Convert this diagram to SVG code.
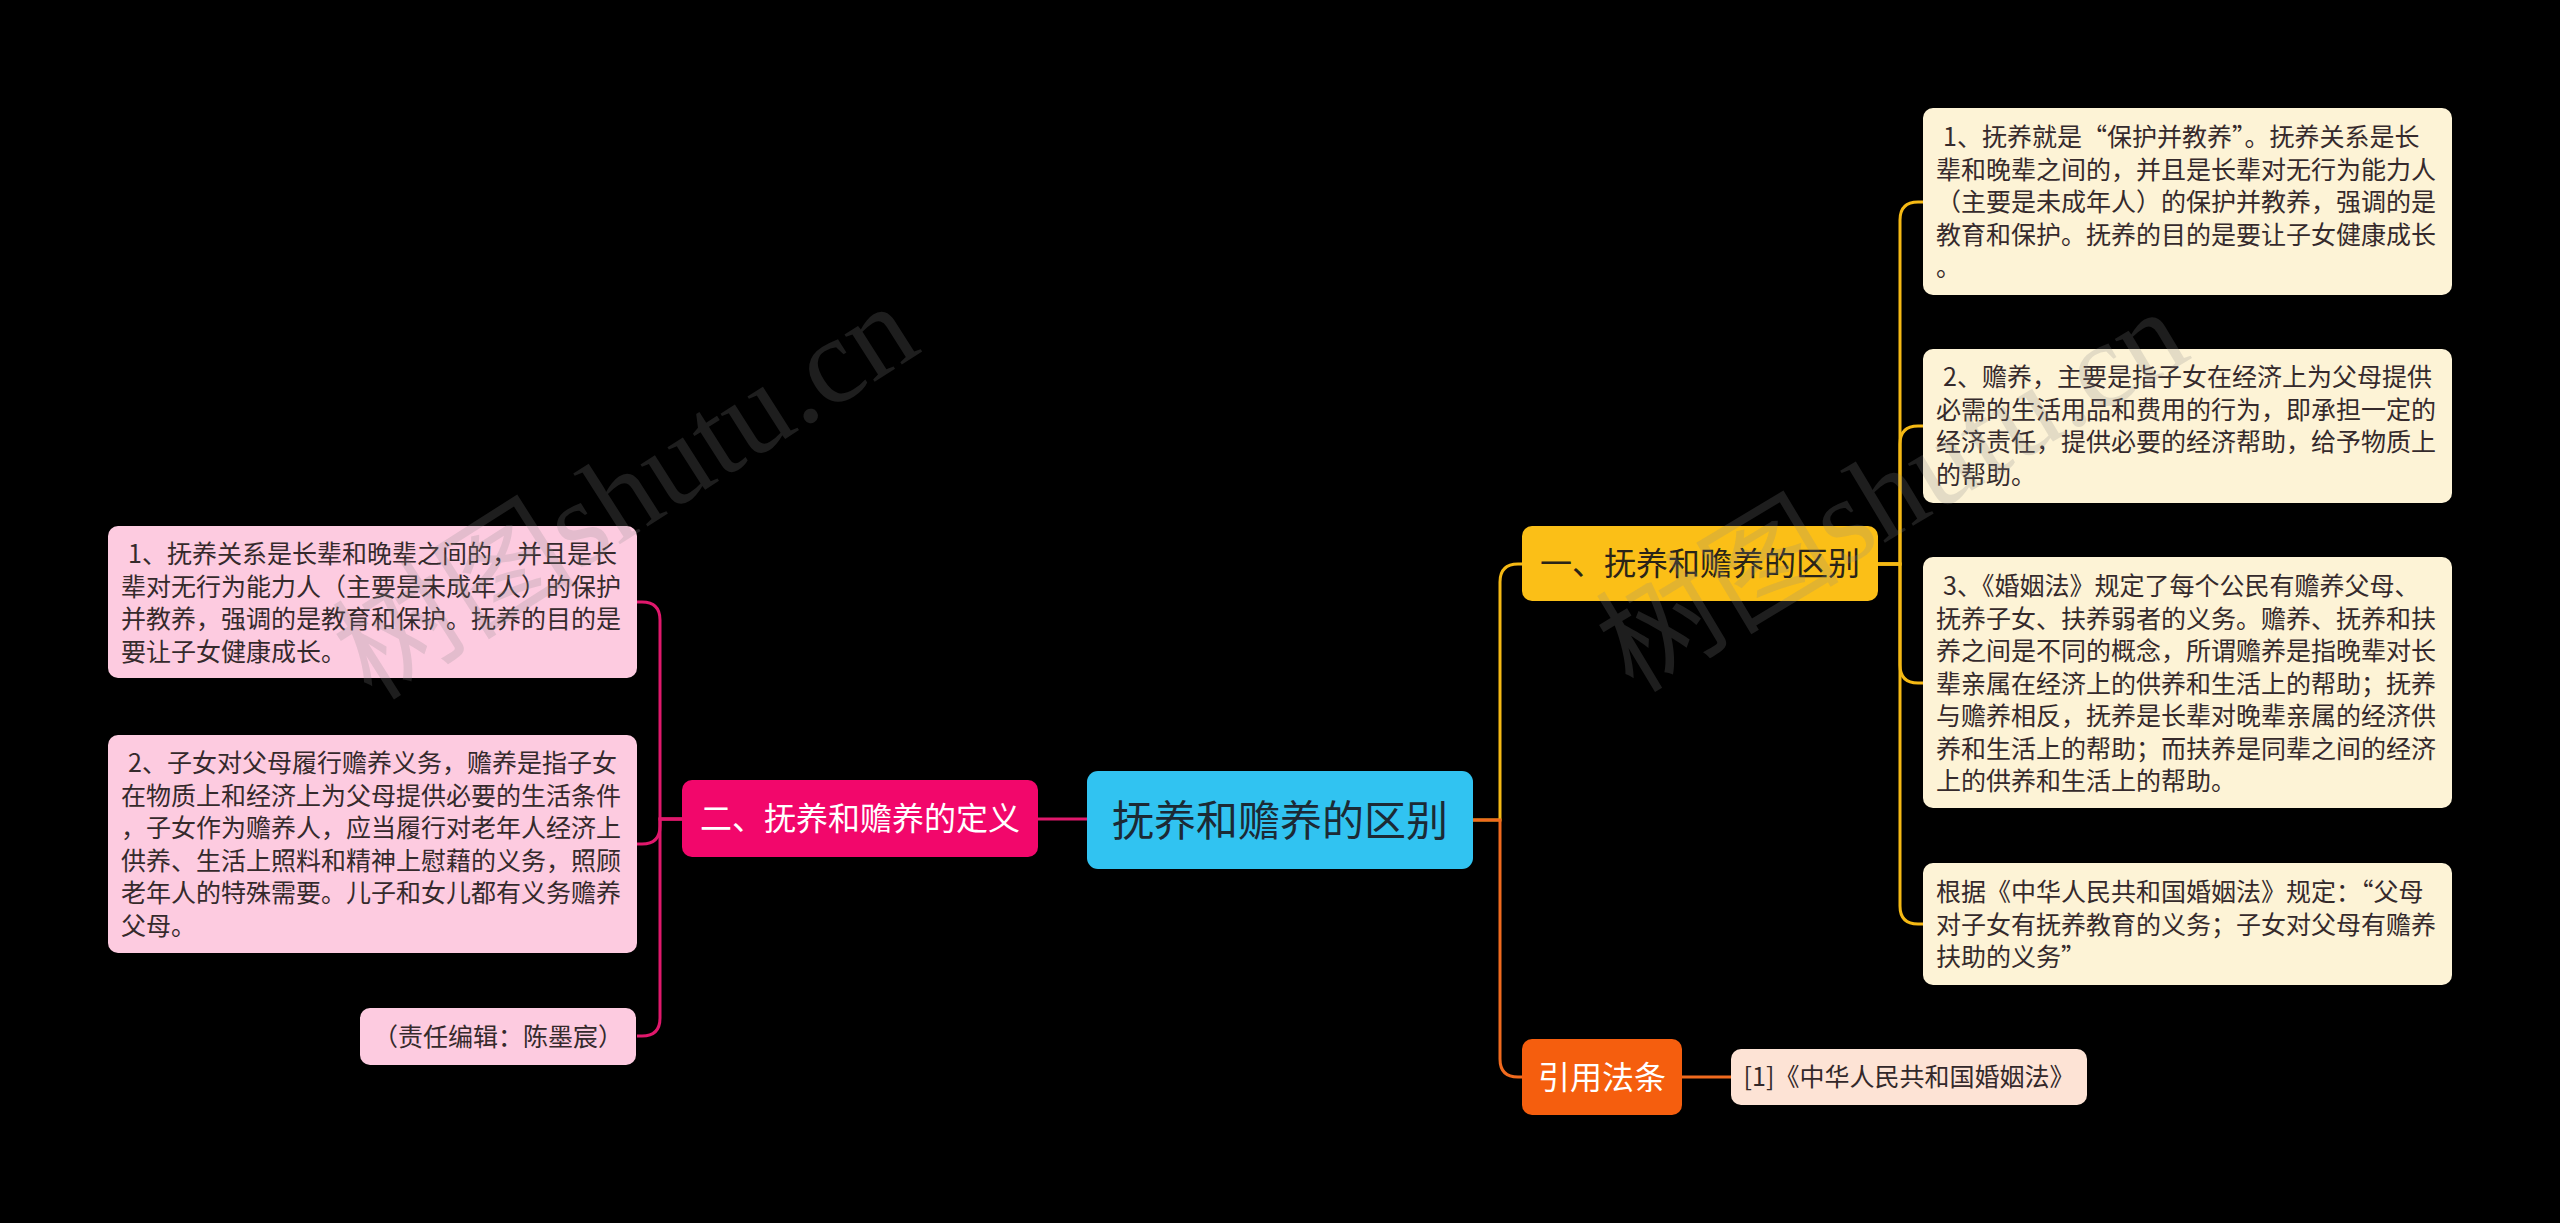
<svg xmlns="http://www.w3.org/2000/svg" width="2560" height="1223" viewBox="0 0 2560 1223">
<style>
text{font-family:"Noto Sans CJK SC","Noto Sans",sans-serif;}
.leaf{font-size:25px;fill:#352a2c;}
.cream{fill:#fdf3d6;}
.pink{fill:#fdcbe0;}
.lm{stroke:#e0186c;stroke-width:3;fill:none;}
.ly{stroke:#f5b914;stroke-width:3;fill:none;}
.lo{stroke:#f06a1e;stroke-width:3;fill:none;}
.fw{font-feature-settings:"fwid";}
.wm{font-family:"Liberation Serif","Noto Sans CJK SC",serif;font-size:122px;fill:#8a8a8a;fill-opacity:0.22;}
</style>
<rect x="0" y="0" width="2560" height="1223" fill="#000"/>

<g id="connectors">
<path class="lm" d="M1038,819 L1087,819"/>
<path class="lm" d="M682,819 L660,819 L660,620 Q660,602 642,602 L637,602"/>
<path class="lm" d="M682,819 L660,819 L660,826 Q660,844 642,844 L637,844"/>
<path class="lm" d="M682,819 L660,819 L660,1018 Q660,1036 642,1036 L637,1036"/>
<path class="ly" d="M1473,820 L1500,820 L1500,582 Q1500,564 1518,564 L1522,564"/>
<path class="lo" d="M1473,820 L1500,820 L1500,1059 Q1500,1077 1518,1077 L1522,1077"/>
<path class="ly" d="M1878,564 L1900,564 L1900,220 Q1900,202 1918,202 L1923,202"/>
<path class="ly" d="M1878,564 L1900,564 L1900,444 Q1900,426 1918,426 L1923,426"/>
<path class="ly" d="M1878,564 L1900,564 L1900,665 Q1900,683 1918,683 L1923,683"/>
<path class="ly" d="M1878,564 L1900,564 L1900,906 Q1900,924 1918,924 L1923,924"/>
<path class="lo" d="M1682,1077 L1731,1077"/>
</g>

<g id="root">
<rect x="1087" y="771" width="386" height="98" rx="11" fill="#31c3f1"/>
<text x="1280" y="836" font-size="42" text-anchor="middle" fill="#1c2a35">抚养和赡养的区别</text>
</g>

<g id="node-left">
<rect x="682" y="780" width="356" height="77" rx="10" fill="#f2076b"/>
<text x="860" y="830" font-size="32" text-anchor="middle" fill="#fff">二、抚养和赡养的定义</text>
</g>

<g id="node-yellow">
<rect x="1522" y="526" width="356" height="75" rx="10" fill="#fbbf17"/>
<text x="1700" y="575" font-size="32" text-anchor="middle" fill="#2a2418">一、抚养和赡养的区别</text>
</g>

<g id="node-orange">
<rect x="1522" y="1039" width="160" height="76" rx="10" fill="#f55e0e"/>
<text x="1602" y="1089" font-size="32" text-anchor="middle" fill="#fff">引用法条</text>
</g>

<g id="leaf-ref">
<rect x="1731" y="1049" width="356" height="56" rx="10" fill="#fde3d5"/>
<text x="1909" y="1086" font-size="25" text-anchor="middle" fill="#33282a">[1]《中华人民共和国婚姻法》</text>
</g>

<g id="leaf-r1">
<rect class="cream" x="1923" y="108" width="529" height="187" rx="10"/>
<text class="leaf">
<tspan x="1943" y="146">1、抚养就是<tspan class="fw">“</tspan>保护并教养<tspan class="fw">”</tspan>。抚养关系是长</tspan>
<tspan x="1936" y="178.5">辈和晚辈之间的，并且是长辈对无行为能力人</tspan>
<tspan x="1936" y="211">（主要是未成年人）的保护并教养，强调的是</tspan>
<tspan x="1936" y="243.5">教育和保护。抚养的目的是要让子女健康成长</tspan>
<tspan x="1936" y="276">。</tspan>
</text>
</g>

<g id="leaf-r2">
<rect class="cream" x="1923" y="349" width="529" height="154" rx="10"/>
<text class="leaf">
<tspan x="1943" y="386">2、赡养，主要是指子女在经济上为父母提供</tspan>
<tspan x="1936" y="418.5">必需的生活用品和费用的行为，即承担一定的</tspan>
<tspan x="1936" y="451">经济责任，提供必要的经济帮助，给予物质上</tspan>
<tspan x="1936" y="483.5">的帮助。</tspan>
</text>
</g>

<g id="leaf-r3">
<rect class="cream" x="1923" y="557" width="529" height="251" rx="10"/>
<text class="leaf">
<tspan x="1943" y="595">3、《婚姻法》规定了每个公民有赡养父母、</tspan>
<tspan x="1936" y="627.5">抚养子女、扶养弱者的义务。赡养、抚养和扶</tspan>
<tspan x="1936" y="660">养之间是不同的概念，所谓赡养是指晚辈对长</tspan>
<tspan x="1936" y="692.5">辈亲属在经济上的供养和生活上的帮助；抚养</tspan>
<tspan x="1936" y="725">与赡养相反，抚养是长辈对晚辈亲属的经济供</tspan>
<tspan x="1936" y="757.5">养和生活上的帮助；而扶养是同辈之间的经济</tspan>
<tspan x="1936" y="790">上的供养和生活上的帮助。</tspan>
</text>
</g>

<g id="leaf-r4">
<rect class="cream" x="1923" y="863" width="529" height="122" rx="10"/>
<text class="leaf">
<tspan x="1936" y="901">根据《中华人民共和国婚姻法》规定：<tspan class="fw">“</tspan>父母</tspan>
<tspan x="1936" y="933.5">对子女有抚养教育的义务；子女对父母有赡养</tspan>
<tspan x="1936" y="966">扶助的义务<tspan class="fw">”</tspan></tspan>
</text>
</g>

<g id="leaf-l1">
<rect class="pink" x="108" y="526" width="529" height="152" rx="10"/>
<text class="leaf">
<tspan x="128" y="563">1、抚养关系是长辈和晚辈之间的，并且是长</tspan>
<tspan x="121" y="595.5">辈对无行为能力人（主要是未成年人）的保护</tspan>
<tspan x="121" y="628">并教养，强调的是教育和保护。抚养的目的是</tspan>
<tspan x="121" y="660.5">要让子女健康成长。</tspan>
</text>
</g>

<g id="leaf-l2">
<rect class="pink" x="108" y="735" width="529" height="218" rx="10"/>
<text class="leaf">
<tspan x="128" y="772">2、子女对父母履行赡养义务，赡养是指子女</tspan>
<tspan x="121" y="804.5">在物质上和经济上为父母提供必要的生活条件</tspan>
<tspan x="121" y="837">，子女作为赡养人，应当履行对老年人经济上</tspan>
<tspan x="121" y="869.5">供养、生活上照料和精神上慰藉的义务，照顾</tspan>
<tspan x="121" y="902">老年人的特殊需要。儿子和女儿都有义务赡养</tspan>
<tspan x="121" y="934.5">父母。</tspan>
</text>
</g>

<g id="leaf-l3">
<rect class="pink" x="360" y="1008" width="276" height="57" rx="10"/>
<text class="leaf" x="498" y="1046" text-anchor="middle">（责任编辑：陈墨宸）</text>
</g>

<g id="watermark">
<text class="wm" transform="translate(372,702) rotate(-32.5)">树图shutu.cn</text>
<text class="wm" transform="translate(1633,694) rotate(-31)">树图shutu.cn</text>
</g>
</svg>
